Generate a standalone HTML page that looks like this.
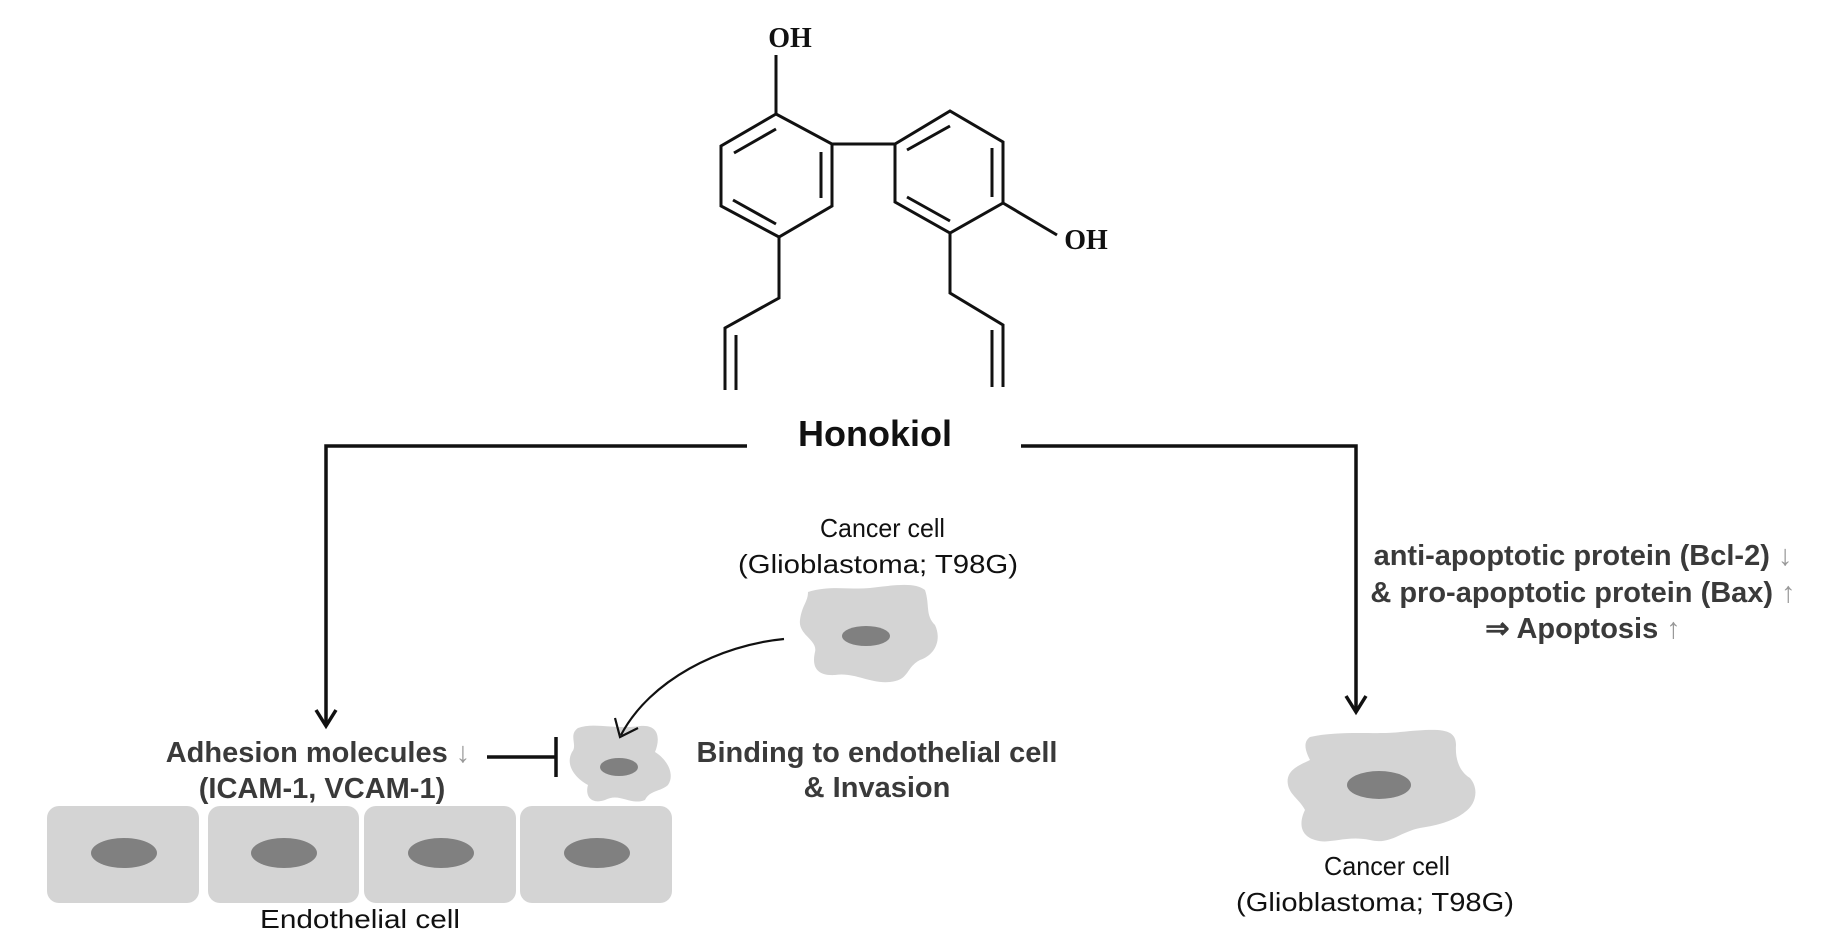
<!DOCTYPE html>
<html><head><meta charset="utf-8"><style>
html,body{margin:0;padding:0;background:#fff;}
svg{display:block;}
.b{font-family:"Liberation Sans",sans-serif;font-weight:bold;fill:#3a3a3a;font-size:29px;}
.n{font-family:"Liberation Sans",sans-serif;fill:#111;font-size:26px;}
.g{fill:#999;}
</style></head><body>
<svg width="1843" height="945" viewBox="0 0 1843 945" xmlns="http://www.w3.org/2000/svg">
<g stroke="#111" stroke-width="3" fill="none" stroke-linejoin="miter">
<polygon points="776,114 721,146 721,206 779,237 832,206 832,144"/>
<line x1="776" y1="55" x2="776" y2="114"/>
<line x1="734" y1="153" x2="776" y2="129"/>
<line x1="821" y1="152" x2="821" y2="198"/>
<line x1="733" y1="200" x2="776" y2="224"/>
<line x1="832" y1="144" x2="895" y2="144"/>
<polygon points="895,144 950,111 1003,142 1003,203 950,233 895,202"/>
<line x1="907" y1="150" x2="950" y2="126"/>
<line x1="992" y1="148" x2="992" y2="197"/>
<line x1="907" y1="197" x2="950" y2="221"/>
<line x1="1003" y1="203" x2="1057" y2="235"/>
<polyline points="779,237 779,298 725,328 725,390"/>
<line x1="736" y1="335" x2="736" y2="390"/>
<polyline points="950,233 950,293 1003,325 1003,387"/>
<line x1="992" y1="330" x2="992" y2="387"/>
</g>
<text x="790" y="47" text-anchor="middle" font-family="Liberation Serif,serif" font-weight="bold" font-size="28" fill="#111">OH</text>
<text x="1086" y="249" text-anchor="middle" font-family="Liberation Serif,serif" font-weight="bold" font-size="28" fill="#111">OH</text>
<text x="875" y="446" text-anchor="middle" font-family="Liberation Sans,sans-serif" font-weight="bold" font-size="36" fill="#111">Honokiol</text>

<g stroke="#111" stroke-width="3.5" fill="none">
<polyline points="747,446 326,446 326,726"/>
<polyline points="316,710 326,726 336,710"/>
<polyline points="1021,446 1356,446 1356,712"/>
<polyline points="1346,696 1356,712 1366,696"/>
<line x1="487" y1="757" x2="556" y2="757"/>
<line x1="556" y1="737" x2="556" y2="777"/>
</g>

<g fill="#d4d4d4">
<rect x="47" y="806" width="152" height="97" rx="12"/>
<rect x="208" y="806" width="151" height="97" rx="12"/>
<rect x="364" y="806" width="152" height="97" rx="12"/>
<rect x="520" y="806" width="152" height="97" rx="12"/>
</g>
<g fill="#808080">
<ellipse cx="124" cy="853" rx="33" ry="15"/>
<ellipse cx="284" cy="853" rx="33" ry="15"/>
<ellipse cx="441" cy="853" rx="33" ry="15"/>
<ellipse cx="597" cy="853" rx="33" ry="15"/>
</g>
<text x="260" y="928" class="n" textLength="200" lengthAdjust="spacingAndGlyphs">Endothelial cell</text>

<path fill="#d4d4d4" d="M808,592 C830,585 850,590 870,588 C895,585 915,582 925,590 C930,605 925,615 935,625 C942,640 935,655 920,660 C905,668 910,680 890,682 C870,684 855,672 835,675 C815,676 812,665 815,652 C818,640 798,635 800,620 C802,605 808,602 808,592Z"/>
<ellipse cx="866" cy="636" rx="24" ry="10" fill="#808080"/>
<text x="820" y="537" class="n" textLength="125" lengthAdjust="spacingAndGlyphs">Cancer cell</text>
<text x="738" y="573" class="n" textLength="280" lengthAdjust="spacingAndGlyphs">(Glioblastoma; T98G)</text>

<path fill="#d4d4d4" d="M578,728 C595,722 615,730 640,726 C660,724 660,740 655,752 C668,760 675,775 668,785 C660,792 650,790 645,800 C630,806 620,792 605,800 C590,805 585,795 588,785 C575,778 565,765 572,752 C578,745 568,735 578,728Z"/>
<ellipse cx="619" cy="767" rx="19" ry="9" fill="#808080"/>

<path d="M784,639 C720,645 650,680 621,735" stroke="#111" stroke-width="2.2" fill="none"/>
<polyline points="615,718 620,737 638,728" stroke="#111" stroke-width="2.2" fill="none"/>

<text x="318" y="762" text-anchor="middle" class="b">Adhesion molecules <tspan class="g" font-weight="normal">↓</tspan></text>
<text x="322" y="798" text-anchor="middle" class="b">(ICAM-1, VCAM-1)</text>
<text x="877" y="762" text-anchor="middle" class="b">Binding to endothelial cell</text>
<text x="877" y="797" text-anchor="middle" class="b">&amp; Invasion</text>

<text x="1583" y="565" text-anchor="middle" class="b">anti-apoptotic protein (Bcl-2) <tspan class="g" font-weight="normal">↓</tspan></text>
<text x="1583" y="602" text-anchor="middle" class="b">&amp; pro-apoptotic protein (Bax) <tspan class="g" font-weight="normal">↑</tspan></text>
<text x="1583" y="638" text-anchor="middle" class="b">⇒ Apoptosis <tspan class="g" font-weight="normal">↑</tspan></text>

<path fill="#d4d4d4" d="M1310,737 C1340,730 1380,735 1400,732 C1440,728 1456,728 1456,745 C1455,760 1460,772 1470,778 C1480,790 1475,805 1465,812 C1455,820 1440,825 1420,828 C1400,832 1390,845 1370,840 C1345,835 1330,845 1315,840 C1298,835 1300,820 1305,810 C1300,800 1290,795 1288,785 C1285,770 1300,765 1310,760 C1305,750 1303,742 1310,737Z"/>
<ellipse cx="1379" cy="785" rx="32" ry="14" fill="#808080"/>
<text x="1324" y="875" class="n" textLength="126" lengthAdjust="spacingAndGlyphs">Cancer cell</text>
<text x="1236" y="911" class="n" textLength="278" lengthAdjust="spacingAndGlyphs">(Glioblastoma; T98G)</text>
</svg>
</body></html>
